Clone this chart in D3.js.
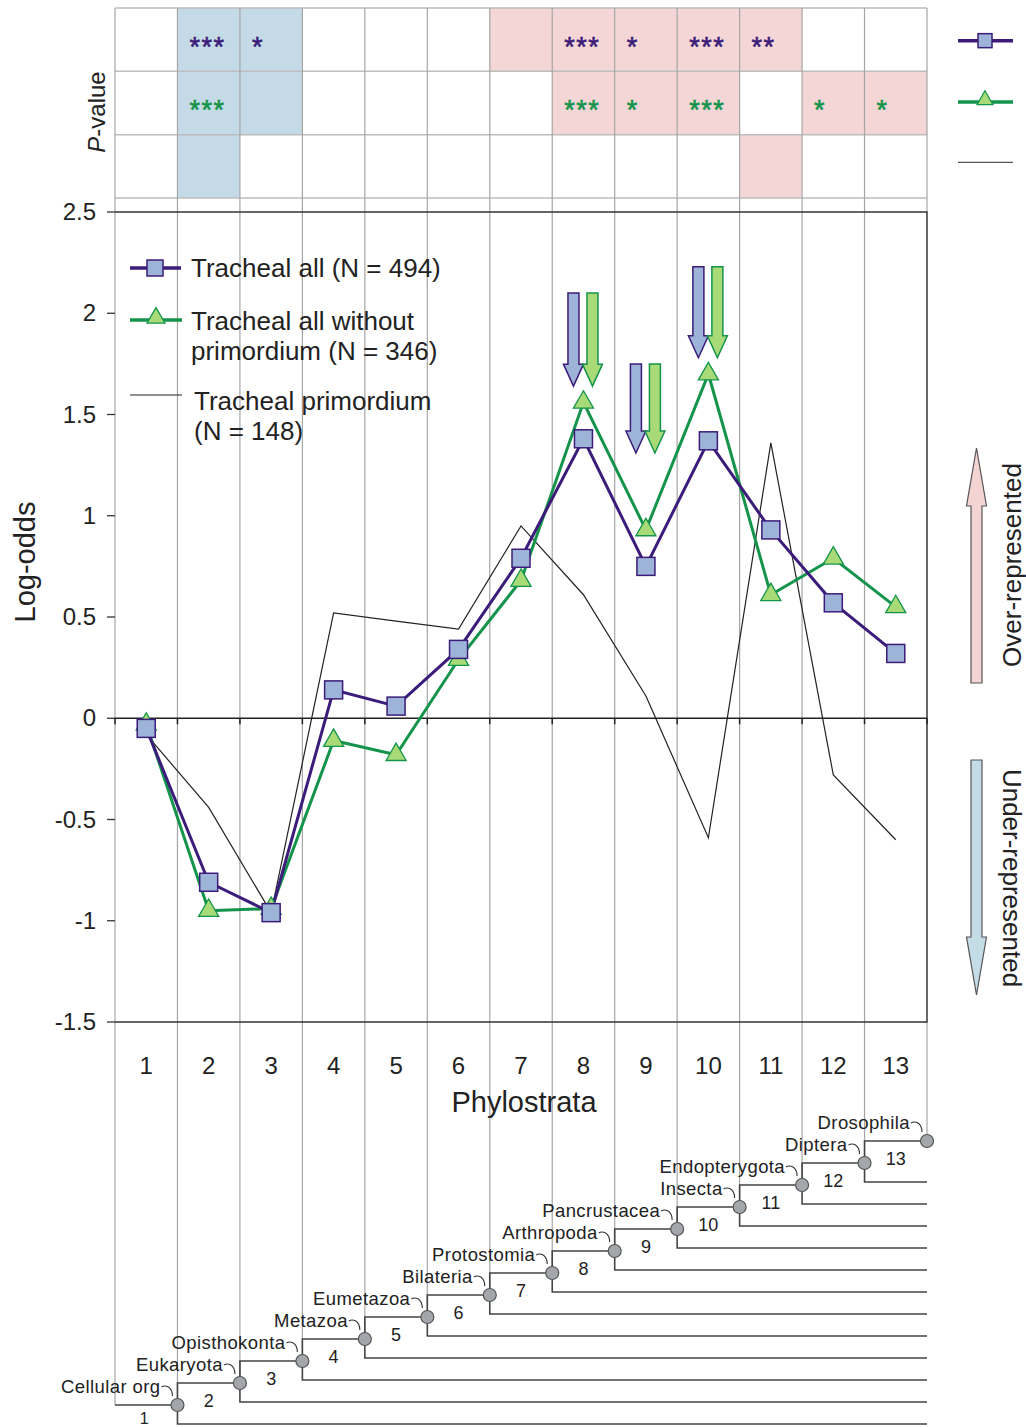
<!DOCTYPE html>
<html><head><meta charset="utf-8">
<script src="https://cdn.jsdelivr.net/npm/d3@7"></script>
<style>
body{margin:0;background:#fff}
svg{display:block}
text{font-family:"Liberation Sans",Arial,sans-serif;fill:#222}
</style>
</head><body><svg id="c" width="1026" height="1427"></svg>
<script>
// ---------- DATA ----------
const strata = [1,2,3,4,5,6,7,8,9,10,11,12,13];
const trachealAll       = [-0.05,-0.81,-0.96,0.14,0.06,0.34,0.79,1.38,0.75,1.37,0.93,0.57,0.32];
const withoutPrimordium = [-0.03,-0.95,-0.94,-0.11,-0.18,0.29,0.68,1.56,0.93,1.70,0.61,0.79,0.55];
const primordium        = [-0.08,-0.44,-0.96,0.52,0.48,0.44,0.95,0.61,0.11,-0.59,1.36,-0.28,-0.60];
const seriesLabels = [["Tracheal all (N = 494)"],["Tracheal all without","primordium (N = 346)"],["Tracheal primordium","(N = 148)"]];
// p-value grid: stars and shading (1 = over-represented, -1 = under-represented)
const starsAll     = ["","***","*","","","","","***","*","***","**","",""];
const starsWithout = ["","***","","","","","","***","*","***","","*","*"];
const shadeAll        = [0,-1,-1,0,0,0,1,1,1,1,1,0,0];
const shadeWithout    = [0,-1,-1,0,0,0,0,1,1,1,0,1,1];
const shadePrimordium = [0,-1,0,0,0,0,0,0,0,0,1,0,0];
// significance arrows (log-odds units)
const arrowStrata = [8,9,10];
const arrowTop = [2.10,1.75,2.23];
const arrowTip = [1.64,1.31,1.78];
const yTicks = [-1.5,-1,-0.5,0,0.5,1,1.5,2,2.5];
const clades = ["Cellular org","Eukaryota","Opisthokonta","Metazoa","Eumetazoa","Bilateria","Protostomia","Arthropoda","Pancrustacea","Insecta","Endopterygota","Diptera","Drosophila"];

// ---------- SETUP ----------
const svg = d3.select("#c");
const L = 115, R = 927;
const xe = d3.scaleLinear().domain([0,13]).range([L,R]);
const xc = s => xe(s-0.5);
const y = d3.scaleLinear().domain([-1.5,2.5]).range([1022,212]);
const rowY = d3.scaleLinear().domain([0,3]).range([8,198]);
const ty = d3.scaleLinear().domain([1,13]).range([1405,1141]);
const C = {pur:"#3b1c7a", purF:"#9eb3d8", grn:"#14944b", grnF:"#a8db78", over:"#f4d6d6", under:"#c4dae6", grid:"#a5a5a5", dark:"#333"};

// ---------- P-VALUE GRID ----------
const rows = [{shade:shadeAll, stars:starsAll, color:C.pur},{shade:shadeWithout, stars:starsWithout, color:C.grn},{shade:shadePrimordium, stars:null}];
rows.forEach((r,i)=>{
  svg.append("g").selectAll("rect").data(strata).join("rect")
    .attr("x",s=>xe(s-1)).attr("y",rowY(i))
    .attr("width",xe(1)-xe(0)).attr("height",rowY(1)-rowY(0))
    .attr("fill",(s,j)=>r.shade[j]>0?C.over:(r.shade[j]<0?C.under:"#fff"));
});
[0,1,2,3].forEach(i=>{
  svg.append("line").attr("x1",L).attr("x2",R).attr("y1",rowY(i)).attr("y2",rowY(i))
    .attr("stroke","#bdbdbd").attr("stroke-width",1.5);
});

// ---------- VERTICAL GRIDLINES (down to tree nodes) ----------
svg.append("g").selectAll("line").data(d3.range(0,14)).join("line")
  .attr("x1",k=>xe(k)).attr("x2",k=>xe(k))
  .attr("y1",8).attr("y2",k=>ty(Math.max(k,1)))
  .attr("stroke",C.grid).attr("stroke-width",1.2);

// stars
rows.forEach((r,i)=>{
  if(!r.stars) return;
  svg.append("g").selectAll("text").data(strata).join("text")
    .attr("x",s=>xe(s-1)+12).attr("y",rowY(i+0.5)+16)
    .attr("font-size",27).attr("letter-spacing",1.5)
    .attr("stroke",r.color).attr("stroke-width",0.6)
    .style("fill",r.color)
    .text((s,j)=>r.stars[j]);
});

// P-value label
svg.append("text").attr("transform",`translate(105,112) rotate(-90)`)
  .attr("text-anchor","middle").attr("font-size",24)
  .html('<tspan font-style="italic">P</tspan>-value');

// top-right legend
const lgY = [rowY(0.5)+1, rowY(1.5)-1, rowY(2.5)-4];
svg.append("line").attr("x1",958).attr("x2",1013).attr("y1",lgY[0]).attr("y2",lgY[0]).attr("stroke",C.pur).attr("stroke-width",3.5);
svg.append("rect").attr("x",985-7).attr("y",lgY[0]-7).attr("width",14).attr("height",14).attr("fill",C.purF).attr("stroke",C.pur).attr("stroke-width",1.5);
svg.append("line").attr("x1",958).attr("x2",1013).attr("y1",lgY[1]).attr("y2",lgY[1]).attr("stroke",C.grn).attr("stroke-width",3.5);
svg.append("path").attr("d",d3.symbol(d3.symbolTriangle,110)()).attr("transform",`translate(985,${lgY[1]-2})`).attr("fill",C.grnF).attr("stroke",C.grn).attr("stroke-width",1.2);
svg.append("line").attr("x1",958).attr("x2",1013).attr("y1",lgY[2]).attr("y2",lgY[2]).attr("stroke","#555").attr("stroke-width",1.3);

// ---------- PLOT FRAME & AXES ----------
svg.append("path").attr("d",`M${L},${y(2.5)}H${R}V${y(-1.5)}H${L}`).attr("fill","none").attr("stroke",C.dark).attr("stroke-width",1.3);
svg.append("g").selectAll("line").data(yTicks).join("line")
  .attr("x1",107).attr("x2",L).attr("y1",d=>y(d)).attr("y2",d=>y(d)).attr("stroke",C.dark).attr("stroke-width",1.3);
svg.append("g").selectAll("text").data(yTicks).join("text")
  .attr("x",96).attr("y",d=>y(d)+8).attr("text-anchor","end").attr("font-size",24)
  .text(d=>String(d));
// zero line
svg.append("line").attr("x1",L).attr("x2",R).attr("y1",y(0)).attr("y2",y(0)).attr("stroke","#222").attr("stroke-width",1.5);
svg.append("g").selectAll("line").data(d3.range(0,14)).join("line")
  .attr("x1",k=>xe(k)).attr("x2",k=>xe(k)).attr("y1",y(0)).attr("y2",y(0)+6).attr("stroke","#222").attr("stroke-width",1.5);
// x labels
svg.append("g").selectAll("text").data(strata).join("text")
  .attr("x",s=>xc(s)).attr("y",1074).attr("text-anchor","middle").attr("font-size",24).text(s=>s);
svg.append("text").attr("x",524).attr("y",1112).attr("text-anchor","middle").attr("font-size",29).text("Phylostrata");
svg.append("text").attr("transform","translate(35,562) rotate(-90)").attr("text-anchor","middle").attr("font-size",29).text("Log-odds");

// ---------- SERIES ----------
const line = d3.line().x((d,i)=>xc(strata[i])).y(d=>y(d));
svg.append("path").attr("d",line(primordium)).attr("fill","none").attr("stroke","#222").attr("stroke-width",1.2);
svg.append("path").attr("d",line(withoutPrimordium)).attr("fill","none").attr("stroke",C.grn).attr("stroke-width",3);
svg.append("path").attr("d",line(trachealAll)).attr("fill","none").attr("stroke",C.pur).attr("stroke-width",3);
const tri = d3.symbol(d3.symbolTriangle,175);
svg.append("g").selectAll("path").data(withoutPrimordium).join("path")
  .attr("d",tri()).attr("transform",(d,i)=>`translate(${xc(strata[i])},${y(d)})`)
  .attr("fill",C.grnF).attr("stroke",C.grn).attr("stroke-width",1.3);
svg.append("g").selectAll("rect").data(trachealAll).join("rect")
  .attr("x",(d,i)=>xc(strata[i])-9).attr("y",d=>y(d)-9).attr("width",18).attr("height",18)
  .attr("fill",C.purF).attr("stroke",C.pur).attr("stroke-width",1.5);

// ---------- DOWN ARROWS ----------
function downArrow(cx,top,tip,sw=11,hw=20,hl=22){
  const b = tip-hl;
  return `M${cx-sw/2},${top}H${cx+sw/2}V${b}H${cx+hw/2}L${cx},${tip}L${cx-hw/2},${b}H${cx-sw/2}Z`;
}
arrowStrata.forEach((s,i)=>{
  svg.append("path").attr("d",downArrow(xc(s)-10,y(arrowTop[i]),y(arrowTip[i]))).attr("fill",C.purF).attr("stroke",C.pur).attr("stroke-width",1.5);
  svg.append("path").attr("d",downArrow(xc(s)+9,y(arrowTop[i]),y(arrowTip[i]))).attr("fill",C.grnF).attr("stroke",C.grn).attr("stroke-width",1.5);
});

// ---------- IN-PLOT LEGEND ----------
const lg = svg.append("g");
lg.append("line").attr("x1",130).attr("x2",181).attr("y1",268).attr("y2",268).attr("stroke",C.pur).attr("stroke-width",3.5);
lg.append("rect").attr("x",147).attr("y",260).attr("width",16).attr("height",16).attr("fill",C.purF).attr("stroke",C.pur).attr("stroke-width",1.5);
lg.append("line").attr("x1",130).attr("x2",182).attr("y1",320).attr("y2",320).attr("stroke",C.grn).attr("stroke-width",3.5);
lg.append("path").attr("d",d3.symbol(d3.symbolTriangle,140)()).attr("transform","translate(156,318)").attr("fill",C.grnF).attr("stroke",C.grn).attr("stroke-width",1.3);
lg.append("line").attr("x1",130).attr("x2",182).attr("y1",395).attr("y2",395).attr("stroke","#222").attr("stroke-width",1.2);
const lgPos = [[191,277],[191,330],[194,410]];
seriesLabels.forEach((lines,i)=>{
  lines.forEach((t,j)=>{
    lg.append("text").attr("x",lgPos[i][0]).attr("y",lgPos[i][1]+j*30).attr("font-size",26).text(t);
  });
});

// ---------- RIGHT ARROWS ----------
function vArrow(cx,base,tip,sw=11,hw=20,hl=58){
  const dir = tip<base?1:-1; const b = tip+dir*hl;
  return `M${cx-sw/2},${base}V${b}H${cx-hw/2}L${cx},${tip}L${cx+hw/2},${b}H${cx+sw/2}V${base}Z`;
}
svg.append("path").attr("d",vArrow(976.5,683,448)).attr("fill","#f4d3d3").attr("stroke","#555").attr("stroke-width",1.2);
svg.append("path").attr("d",vArrow(976.5,760,995)).attr("fill","#c4dce6").attr("stroke","#555").attr("stroke-width",1.2);
svg.append("text").attr("transform","translate(1012,565) rotate(-90)").attr("text-anchor","middle").attr("dominant-baseline","central").attr("font-size",26).text("Over-represented");
svg.append("text").attr("transform","translate(1012,878) rotate(90)").attr("text-anchor","middle").attr("dominant-baseline","central").attr("font-size",26).text("Under-represented");

// ---------- TREE ----------
const tree = svg.append("g").attr("fill","none").attr("stroke","#444").attr("stroke-width",1.6);
tree.append("line").attr("x1",xe(0)).attr("x2",xe(1)).attr("y1",ty(1)).attr("y2",ty(1));
d3.range(1,13).forEach(k=>{
  tree.append("path").attr("d",`M${xe(k+1)},${ty(k+1)}H${xe(k)}V${ty(k)+19}H${R}`);
});
svg.append("g").selectAll("circle").data(d3.range(1,14)).join("circle")
  .attr("cx",k=>xe(k)).attr("cy",k=>ty(k)).attr("r",6.5)
  .attr("fill","#a3a6aa").attr("stroke","#555").attr("stroke-width",1.2);
// clade labels
svg.append("g").selectAll("text").data(clades).join("text")
  .attr("x",(c,i)=>xe(i+1)-17).attr("y",(c,i)=>ty(i+1)-12).attr("text-anchor","end").attr("font-size",18.5).attr("letter-spacing",0.4)
  .text(c=>c);
svg.append("g").selectAll("path").data(clades).join("path")
  .attr("d",(c,i)=>{const nx=xe(i+1), ny=ty(i+1); return `M${nx-16},${ny-18}c3,-2 5,-1 7,0c3,2 4,5 4,9`;})
  .attr("fill","none").attr("stroke","#333").attr("stroke-width",1.1);
// stratum numbers
svg.append("text").attr("x",xc(1)-2).attr("y",1424).attr("text-anchor","middle").attr("font-size",16).text("1");
svg.append("g").selectAll("text").data(d3.range(1,13)).join("text")
  .attr("x",k=>xc(k+1)).attr("y",k=>ty(k)+2).attr("text-anchor","middle").attr("font-size",18).text(k=>k+1);
</script>
</body></html>
